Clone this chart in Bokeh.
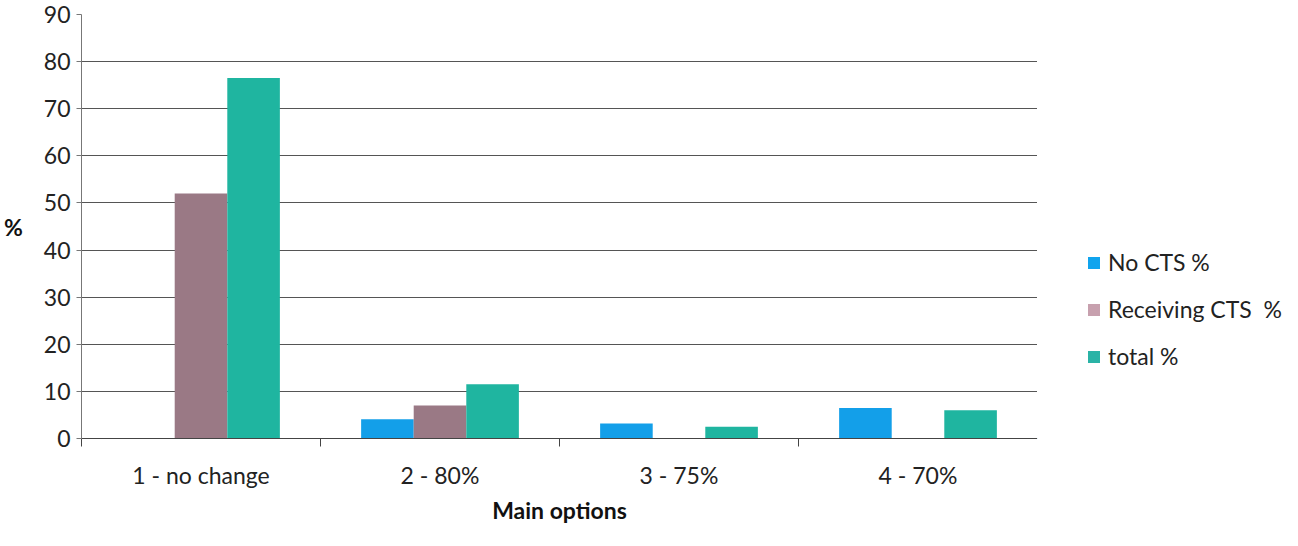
from bokeh.plotting import figure
from bokeh.layouts import row
from bokeh.models import ColumnDataSource, FixedTicker, Legend, LegendItem, Range1d
from bokeh.embed import file_html
from bokeh.resources import INLINE

categories = ["1 - no change", "2 - 80%", "3 - 75%", "4 - 70%"]
series_names = ["No CTS %", "Receiving CTS  %", "total %"]
no_cts = [0, 4.1, 3.2, 6.5]
receiving_cts = [52, 7.0, 0, 0]
total = [76.5, 11.5, 2.5, 6.0]
y_ticks = [0, 10, 20, 30, 40, 50, 60, 70, 80, 90]

colors = ["#139FE9", "#9A7985", "#1FB5A0"]
legend_colors = ["#10A4EE", "#C7A0AE", "#2AB3A6"]
series = [no_cts, receiving_cts, total]
offsets = [-0.22, 0.0, 0.22]
bar_w = 0.22
FONT = "Lato"

p = figure(width=1037, height=530, output_backend="svg", toolbar_location=None,
           x_range=Range1d(0, 4), y_range=Range1d(0, 90))
p.min_border_left = 77
p.min_border_right = 0
p.min_border_top = 14
p.min_border_bottom = 92
p.outline_line_color = None
p.background_fill_color = "white"
p.border_fill_color = "white"

centers = [i + 0.5 for i in range(len(categories))]
for vals, off, col in zip(series, offsets, colors):
    src = ColumnDataSource(dict(x=[c + off for c in centers], top=vals))
    p.vbar(x="x", top="top", width=bar_w, source=src, fill_color=col, line_color=None)

# y axis
p.yaxis.ticker = FixedTicker(ticks=y_ticks)
p.yaxis.axis_label = "%"
p.yaxis.axis_label_orientation = "horizontal"
p.yaxis.axis_label_text_font = FONT
p.yaxis.axis_label_text_font_style = "bold"
p.yaxis.axis_label_text_font_size = "23px"
p.yaxis.axis_label_text_color = "#111111"
p.yaxis.axis_label_standoff = 18
p.yaxis.major_label_text_font = FONT
p.yaxis.major_label_text_font_size = "23px"
p.yaxis.major_label_text_color = "#222222"
p.yaxis.axis_line_color = "#777777"
p.yaxis.major_tick_line_color = "#777777"
p.yaxis.major_tick_out = 5
p.yaxis.major_tick_in = 0
p.yaxis.minor_tick_line_color = None
p.yaxis.major_label_standoff = 6

# x axis
p.xaxis.ticker = FixedTicker(ticks=centers, minor_ticks=[0, 1, 2, 3, 4])
p.xaxis.major_label_overrides = {c: lab for c, lab in zip(centers, categories)}
p.xaxis.major_tick_line_color = None
p.xaxis.major_tick_out = 0
p.xaxis.minor_tick_line_color = "#444444"
p.xaxis.minor_tick_out = 8
p.xaxis.minor_tick_in = 0
p.xaxis.axis_line_color = "#444444"
p.xaxis.major_label_text_font = FONT
p.xaxis.major_label_text_font_size = "23px"
p.xaxis.major_label_text_color = "#222222"
p.xaxis.major_label_text_line_height = 0.9
p.xaxis.major_label_standoff = 14
p.xaxis.axis_label = "Main options"
p.xaxis.axis_label_text_font = FONT
p.xaxis.axis_label_text_font_style = "bold"
p.xaxis.axis_label_text_font_size = "23px"
p.xaxis.axis_label_text_color = "#111111"
p.xaxis.axis_label_text_line_height = 0.8
p.xaxis.axis_label_standoff = 4

p.xgrid.grid_line_color = None
p.ygrid.ticker = FixedTicker(ticks=y_ticks)
p.ygrid.grid_line_color = "#555555"
p.ygrid.grid_line_width = 1

# legend panel
q = figure(width=245, height=530, output_backend="svg", toolbar_location=None,
           x_range=Range1d(0, 1), y_range=Range1d(0, 1))
q.min_border = 0
q.outline_line_color = None
q.xaxis.visible = False
q.yaxis.visible = False
q.xgrid.grid_line_color = None
q.ygrid.grid_line_color = None

leg_items = []
for name, col in zip(series_names, legend_colors):
    g = q.vbar(x=[-10], top=[-10], width=0.1, fill_color=col, line_color=None)
    leg_items.append(LegendItem(label=name, renderers=[g]))

legend = Legend(items=leg_items, location=(49, 68), orientation="vertical")
legend.label_text_font = FONT
legend.label_text_font_size = "23px"
legend.label_text_color = "#222222"
legend.glyph_width = 15
legend.glyph_height = 15
legend.label_height = 20
legend.spacing = 19
legend.border_line_color = None
legend.background_fill_alpha = 0
legend.label_standoff = 7
legend.padding = 0
legend.margin = 0
q.add_layout(legend, "center")

layout = row(p, q)
open("out.html", "w").write(file_html(layout, INLINE))
